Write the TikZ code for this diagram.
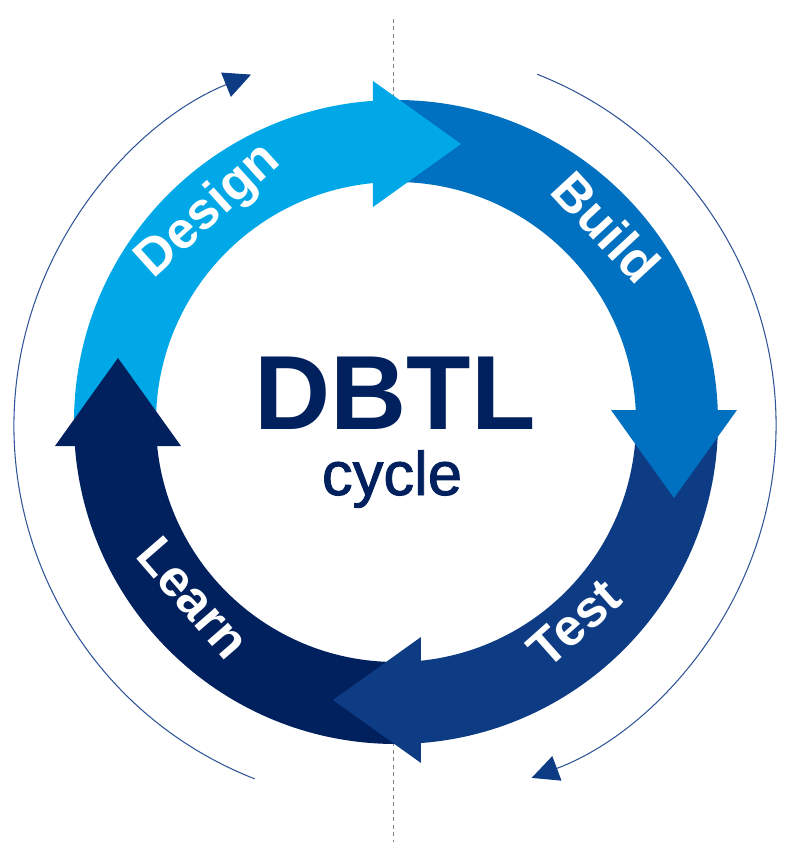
\documentclass[tikz,border=0pt]{standalone}
\usepackage{fontspec}
\setmainfont{Liberation Sans}
\usepackage{xcolor}
\usepackage{tikz}
\usetikzlibrary{arrows.meta}
\usetikzlibrary{calc}

\definecolor{designblue}{HTML}{00A8E8}
\definecolor{buildblue}{HTML}{0070C0}
\definecolor{testblue}{HTML}{0E3C84}
\definecolor{learnblue}{HTML}{00205E}
\definecolor{arcblue}{HTML}{2F5597}
\definecolor{tipblue}{HTML}{0E3C84}

% ring piece: colour, start angle, end angle
\newcommand{\ringpart}[3]{%
  \fill[#1] (#2:322) arc[start angle=#2, end angle=#3, radius=322]
    -- (#3:240) arc[start angle=#3, end angle=#2, radius=240] -- cycle;}
% straight head: colour, rotation, offset of the base
\newcommand{\ringhead}[3]{%
  \fill[#1, rotate=#2] (-#3,215) -- (-#3,341) -- (88-#3,278) -- cycle;}

\begin{document}
\begin{tikzpicture}[x=0.2mm, y=0.2mm]
	\tikzstyle{stage}=[text=white, font=\fontsize{29.5}{34}\selectfont\bfseries, anchor=mid, inner sep=0pt]
	\tikzstyle{thin}=[draw=arcblue, line width=0.6pt, -{Triangle[length=5.4mm, width=5.2mm, color=tipblue]}]
	\tikzstyle{axis}=[gray, line width=0.5pt, dash pattern=on 0.8mm off 0.7mm]
	\useasboundingbox (-396,-420) rectangle (396,422);
	\coordinate (O) at (0,0);
	% axis, outside the ring only
	\draw[axis] (-3,403) -- (-3,300);
	\draw[axis] (-3,-320) -- (-3,-420);
	% ring
	\ringpart{buildblue}{90}{0}
	\ringpart{testblue}{0}{-90}
	\ringpart{learnblue}{270}{180}
	\ringpart{designblue}{180}{90}
	\ringhead{designblue}{0}{23}
	\ringhead{buildblue}{-90}{12}
	\ringhead{testblue}{-180}{25}
	\ringhead{learnblue}{90}{24}
	% labels
	\node[stage, rotate=42]    (design) at (131.6:273) {Design};
	\node[stage, rotate=-47.2] (build)  at (42.8:273) {Build};
	\node[stage, rotate=41.6]  (test)   at (-48.4:282) {Test};
	\node[stage, rotate=-49]   (learn)  at (221:281) {Learn};
	\node[text=learnblue, font=\fontsize{60}{66}\selectfont\bfseries, anchor=base, inner sep=0pt] (dbtl) at (-1,-7) {DBTL};
	\node[text=learnblue, font=\fontsize{35}{40}\selectfont\addfontfeature{FakeBold=1.5}, anchor=base, inner sep=0pt] (cycle) at (-4,-73) {cycle};
	% outer arrows
	\coordinate (lc) at (-3,-4);
	\coordinate (rc) at (3,-3);
	\draw[thin] ($(lc)+(248.6:379)$) arc[start angle=248.6, end angle=112, radius=379];
	\draw[thin] ($(rc)+(68.5:377)$) arc[start angle=68.5, end angle=-69.4, radius=377];
\end{tikzpicture}
\end{document}
